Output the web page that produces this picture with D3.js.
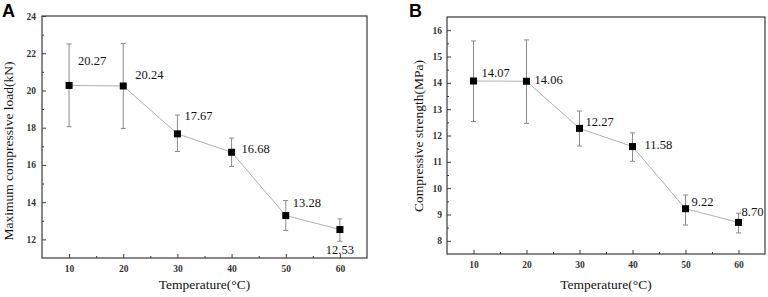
<!DOCTYPE html>
<html>
<head>
<meta charset="utf-8">
<script src="https://cdn.jsdelivr.net/npm/d3@7"></script>
<style>
  body { margin: 0; background: #fff; }
  svg { display: block; }
</style>
</head>
<body>
<div id="wrapper"></div>
<script>
const temperatures = [10, 20, 30, 40, 50, 60]
const xTicks = [10, 20, 30, 40, 50, 60]

// panel A - maximum compressive load (kN)
const loadMean = [20.27, 20.24, 17.67, 16.68, 13.28, 12.53]
const loadUpper = [22.50, 22.53, 18.68, 17.44, 14.09, 13.10]
const loadLower = [18.05, 17.96, 16.72, 15.92, 12.48, 11.90]
const loadTicks = [12, 14, 16, 18, 20, 22, 24]

// panel B - compressive strength (MPa)
const strengthMean = [14.07, 14.06, 12.27, 11.58, 9.22, 8.70]
const strengthUpper = [15.59, 15.63, 12.93, 12.10, 9.74, 9.05]
const strengthLower = [12.53, 12.46, 11.60, 11.02, 8.60, 8.30]
const strengthTicks = [8, 9, 10, 11, 12, 13, 14, 15, 16]

const labelA = ["20.27", "20.24", "17.67", "16.68", "13.28", "12.53"]
const labelB = ["14.07", "14.06", "12.27", "11.58", "9.22", "8.70"]

const svg = d3.select("#wrapper").append("svg")
    .attr("width", 768)
    .attr("height", 297)

const serif = "'Liberation Serif', 'Times New Roman', serif"

function drawPanel(p) {
    const xScale = d3.scaleLinear().domain([5, 65]).range([p.left, p.right])
    const yScale = d3.scaleLinear().domain(p.yDomain).range([p.bottom, p.top])
    const g = svg.append("g")

    // frame
    g.append("rect")
        .attr("x", p.left).attr("y", p.top)
        .attr("width", p.right - p.left).attr("height", p.bottom - p.top)
        .attr("fill", "none").attr("stroke", "#3a3a3a").attr("stroke-width", 1.2)

    // y axis (ticks inside)
    const yAxis = g.append("g")
        .attr("transform", `translate(${p.left},0)`)
        .call(d3.axisRight(yScale).tickValues(p.yTicks).tickSize(4).tickFormat(d3.format("d")))
    yAxis.select(".domain").remove()
    yAxis.selectAll(".tick line").attr("stroke", "#3a3a3a")
    yAxis.selectAll(".tick text")
        .attr("x", -p.yLabelGap).attr("text-anchor", "end")
        .attr("font-family", serif).attr("font-size", "9.5px").attr("font-weight", "bold").attr("fill", "#333")
    g.append("g")
        .attr("transform", `translate(${p.left},0)`)
        .call(d3.axisRight(yScale).tickValues(p.yMinor).tickSize(2).tickFormat(""))
        .call(a => a.select(".domain").remove())
        .selectAll(".tick line").attr("stroke", "#3a3a3a")

    // x axis (ticks inside)
    const xAxis = g.append("g")
        .attr("transform", `translate(0,${p.bottom})`)
        .call(d3.axisTop(xScale).tickValues(xTicks).tickSize(4).tickFormat(d3.format("d")))
    xAxis.select(".domain").remove()
    xAxis.selectAll(".tick line").attr("stroke", "#3a3a3a")
    xAxis.selectAll(".tick text")
        .attr("y", 14).attr("dy", 0)
        .attr("font-family", serif).attr("font-size", "9.5px").attr("font-weight", "bold").attr("fill", "#333")
    g.append("g")
        .attr("transform", `translate(0,${p.bottom})`)
        .call(d3.axisTop(xScale).tickValues([15, 25, 35, 45, 55]).tickSize(2).tickFormat(""))
        .call(a => a.select(".domain").remove())
        .selectAll(".tick line").attr("stroke", "#3a3a3a")

    // connecting line
    const line = d3.line().x((d, i) => xScale(temperatures[i])).y(d => yScale(d))
    g.append("path")
        .datum(p.mean)
        .attr("d", line)
        .attr("fill", "none").attr("stroke", "#b0b0b0").attr("stroke-width", 1)

    // error bars
    const eb = g.append("g").attr("stroke", "#8a8a8a").attr("stroke-width", 1)
    temperatures.forEach((t, i) => {
        const x = xScale(t)
        eb.append("line").attr("x1", x).attr("x2", x)
            .attr("y1", yScale(p.upper[i])).attr("y2", yScale(p.lower[i]))
        eb.append("line").attr("x1", x - 2.5).attr("x2", x + 2.5)
            .attr("y1", yScale(p.upper[i])).attr("y2", yScale(p.upper[i]))
        eb.append("line").attr("x1", x - 2.5).attr("x2", x + 2.5)
            .attr("y1", yScale(p.lower[i])).attr("y2", yScale(p.lower[i]))
    })

    // markers
    g.selectAll(".marker")
        .data(p.mean)
        .join("rect")
        .attr("class", "marker")
        .attr("x", (d, i) => xScale(temperatures[i]) - 3.5)
        .attr("y", d => yScale(d) - 3.5)
        .attr("width", 7).attr("height", 7)
        .attr("fill", "#000")

    // value labels
    g.selectAll(".value")
        .data(p.mean)
        .join("text")
        .attr("class", "value")
        .attr("x", (d, i) => xScale(temperatures[i]) + p.labelOffsets[i][0])
        .attr("y", d => yScale(d))
        .attr("dy", (d, i) => p.labelOffsets[i][1])
        .attr("text-anchor", (d, i) => p.labelOffsets[i][2] || "start")
        .attr("font-family", serif).attr("font-size", "12.5px").attr("fill", "#111")
        .text((d, i) => p.labels[i])

    // axis titles
    g.append("text")
        .attr("x", (p.left + p.right) / 2).attr("y", 289)
        .attr("text-anchor", "middle")
        .attr("font-family", serif).attr("font-size", "13.5px").attr("fill", "#111")
        .text("Temperature(°C)")
    g.append("text")
        .attr("transform", `translate(${p.yTitleX},${p.yTitleY}) rotate(-90)`)
        .attr("text-anchor", "middle").attr("dy", "0.35em")
        .attr("font-family", serif).attr("font-size", "13.5px").attr("fill", "#111")
        .text(p.yTitle)

    // panel letter
    svg.append("text")
        .attr("x", p.letterX).attr("y", 17)
        .attr("font-family", "'Liberation Sans', Arial, sans-serif")
        .attr("font-size", "18px").attr("font-weight", "bold")
        .text(p.letter)
}

drawPanel({
    left: 42, right: 367, top: 16, bottom: 258,
    yDomain: [11, 24], yTicks: loadTicks, yMinor: [13, 15, 17, 19, 21, 23], yLabelGap: 6,
    mean: loadMean, upper: loadUpper, lower: loadLower, labels: labelA,
    labelOffsets: [[9, -20], [12, -7], [7, -14], [10, 1], [7, -9], [0, 24, "middle"]],
    yTitle: "Maximum compressive load(kN)", yTitleX: 8, yTitleY: 151,
    letter: "A", letterX: 2
})

drawPanel({
    left: 447, right: 765, top: 17, bottom: 254,
    yDomain: [7.5, 16.5], yTicks: strengthTicks, yMinor: [8.5, 9.5, 10.5, 11.5, 12.5, 13.5, 14.5, 15.5], yLabelGap: 5,
    mean: strengthMean, upper: strengthUpper, lower: strengthLower, labels: labelB,
    labelOffsets: [[8, -4], [8, 3], [6, -2], [12, 2], [6, -3], [3, -6]],
    yTitle: "Compressive strength(MPa)", yTitleX: 418, yTitleY: 136,
    letter: "B", letterX: 409
})
</script>
</body>
</html>
